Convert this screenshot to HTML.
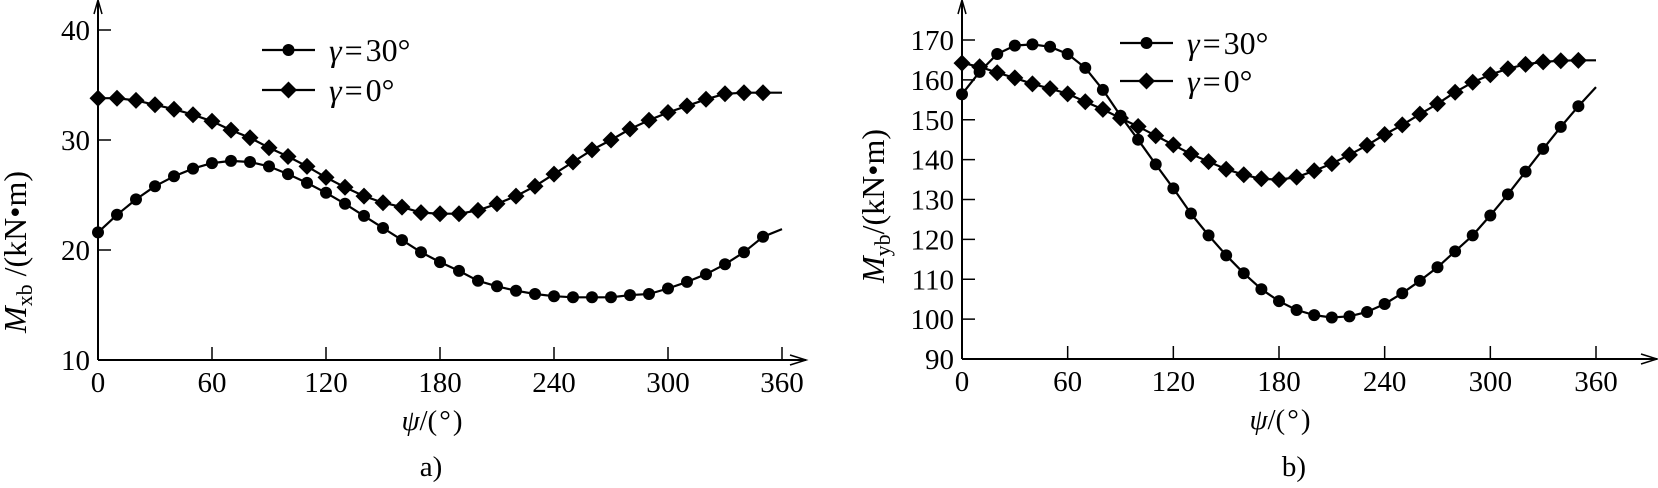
<!DOCTYPE html>
<html><head><meta charset="utf-8"><style>
html,body{margin:0;padding:0;background:#fff;}
svg{display:block;}
text{font-family:"Liberation Serif","Noto Serif CJK SC",serif;fill:#000;}
</style></head><body>
<svg id="fig" width="1658" height="488" viewBox="0 0 1658 488"></svg>
<script>
const angles = [0,10,20,30,40,50,60,70,80,90,100,110,120,130,140,150,160,170,180,190,200,210,220,230,240,250,260,270,280,290,300,310,320,330,340,350];
const xTicks = [0,60,120,180,240,300,360];
const aG30 = [21.6,23.2,24.6,25.8,26.7,27.4,27.9,28.1,28.0,27.6,26.9,26.1,25.2,24.2,23.1,22.0,20.9,19.8,18.9,18.1,17.2,16.7,16.3,16.0,15.8,15.7,15.7,15.7,15.9,16.0,16.5,17.1,17.8,18.7,19.8,21.2];
const aG30End = 21.9;
const aG0 = [33.8,33.8,33.6,33.2,32.8,32.3,31.7,30.9,30.2,29.3,28.5,27.6,26.6,25.7,24.9,24.3,23.9,23.4,23.3,23.3,23.6,24.2,24.9,25.8,26.9,28.0,29.1,30.0,31.0,31.8,32.5,33.1,33.7,34.2,34.3,34.3];
const aG0End = 34.3;
const aYTicks = [10,20,30,40];
const bG30 = [156.4,162,166.5,168.6,168.9,168.3,166.5,163,157.5,151,145,138.8,132.8,126.5,121,116,111.5,107.5,104.5,102.3,101,100.4,100.7,101.8,103.8,106.5,109.6,113,117,121,126,131.3,137,142.7,148.2,153.4];
const bG30End = 158.2;
const bG0 = [164.2,163.3,161.8,160.5,159,157.8,156.5,154.5,152.6,150.4,148.3,146,143.7,141.4,139.5,137.6,136.2,135.2,135,135.6,137.2,139,141.2,143.6,146.3,148.7,151.4,154,156.9,159.4,161.3,162.8,163.9,164.5,164.8,164.9];
const bG0End = 164.9;
const bYTicks = [90,100,110,120,130,140,150,160,170];

const NS='http://www.w3.org/2000/svg';
const svg=document.getElementById('fig');
function el(tag,attrs,parent){const e=document.createElementNS(NS,tag);for(const k in attrs)e.setAttribute(k,attrs[k]);(parent||svg).appendChild(e);return e;}

function panel(cfg){
  const g=el('g',{});
  
  
  const sx=v=>cfg.x0+(v-0)/360*(cfg.x360-cfg.x0);
  const sy=v=>cfg.yAxis-(v-cfg.yMin)/(cfg.yMax-cfg.yMin)*(cfg.yAxis-cfg.yTop);
  const ya=el('path',{d:`M${cfg.x0} ${cfg.yAxis} V2`,stroke:'#000','stroke-width':2,fill:'none'},g);
  
  
  el('path',{d:`M${cfg.x0-4} 14 L${cfg.x0} 0 L${cfg.x0+4} 14`,stroke:'#000','stroke-width':1.5,fill:'none'},g);
  const xa=el('path',{d:`M${cfg.x0} ${cfg.yAxis} H${cfg.xEnd}`,stroke:'#000','stroke-width':2,fill:'none'},g);
  
  
  el('path',{d:`M${cfg.xEnd-16} ${cfg.yAxis-5} L${cfg.xEnd} ${cfg.yAxis} L${cfg.xEnd-16} ${cfg.yAxis+5}`,stroke:'#000','stroke-width':1.5,fill:'none'},g);
  xTicks.forEach(t=>{
    const x=sx(t);
    el('line',{x1:x,x2:x,y1:cfg.yAxis,y2:cfg.yAxis-13,stroke:'#000','stroke-width':1.5},g);
    const tx=el('text',{x:x,y:cfg.yAxis+32,'text-anchor':'middle','font-size':29},g);
    tx.textContent=t;
    
    
  });
  cfg.yTicks.forEach(t=>{
    const y=sy(t);
    if(t!==cfg.yMin) el('line',{x1:cfg.x0,x2:cfg.x0+13,y1:y,y2:y,stroke:'#000','stroke-width':1.5},g);
    const tx=el('text',{x:cfg.x0-8,y:y+10,'text-anchor':'end','font-size':29},g);
    tx.textContent=t;
    
    
  });
  function series(vals,endVal,marker,name){
    let d='';
    vals.forEach((v,i)=>{d+=(i?'L':'M')+sx(angles[i]).toFixed(1)+' '+sy(v).toFixed(1)+' ';});
    d+='L'+sx(360).toFixed(1)+' '+sy(endVal).toFixed(1);
    const p=el('path',{d:d,stroke:'#000','stroke-width':2.2,fill:'none','stroke-linejoin':'round'},g);
    
    
    vals.forEach((v,i)=>{
      const x=sx(angles[i]),y=sy(v);
      let m;
      if(marker==='circle') m=el('circle',{cx:x,cy:y,r:6,fill:'#000'},g);
      else m=el('path',{d:`M${x} ${y-8.5} L${x+8.5} ${y} L${x} ${y+8.5} L${x-8.5} ${y}Z`,fill:'#000'},g);
      
      
    });
  }
  series(cfg.s30,cfg.s30End,'circle','gamma-30');
  series(cfg.s0,cfg.s0End,'diamond','gamma-0');
  const L=cfg.legend;
  [[L.y1,'circle','30°','legend-gamma-30'],[L.y2,'diamond','0°','legend-gamma-0']].forEach(([y,m,lab,nm])=>{
    const lg=el('g',{},g);
    
    
    el('line',{x1:L.x1,x2:L.x2,y1:y,y2:y,stroke:'#000','stroke-width':2.2},lg);
    const cx=(L.x1+L.x2)/2;
    if(m==='circle') el('circle',{cx:cx,cy:y,r:6,fill:'#000'},lg);
    else el('path',{d:`M${cx} ${y-8.5} L${cx+8.5} ${y} L${cx} ${y+8.5} L${cx-8.5} ${y}Z`,fill:'#000'},lg);
    const t=el('text',{x:L.x2+14,y:y+11,'font-size':32},lg);
    t.innerHTML='<tspan font-style="italic">γ</tspan><tspan dx="3">=</tspan><tspan dx="3">' + lab + '</tspan>';
  });
  const yt=el('text',{x:0,y:0,'font-size':32,'text-anchor':'middle',transform:`translate(${cfg.yTitleX},${cfg.yTitleY}) rotate(-90)`},g);
  yt.innerHTML=cfg.yTitle;
  
  
  const xt=el('text',{x:cfg.xTitleX,y:cfg.yAxis+70,'font-size':29,'text-anchor':'middle'},g);
  xt.innerHTML='<tspan font-style="italic">ψ</tspan>/(<tspan dx="2">°</tspan><tspan dx="2">)</tspan>';
  
  
  const cap=el('text',{x:cfg.capX,y:476,'font-size':29,'text-anchor':'middle'},g);
  cap.textContent=cfg.cap;
  
  
}

panel({name:'chart-a',x0:98,x360:782,xEnd:806,yAxis:360,yTop:30,yMin:10,yMax:40,yTicks:aYTicks,
  s30:aG30,s30End:aG30End,s0:aG0,s0End:aG0End,
  legend:{x1:262,x2:315,y1:50,y2:90},
  yTitle:'<tspan font-style="italic">M</tspan><tspan font-size="22" dy="6">xb</tspan><tspan dy="-6"> /(kN•m)</tspan>',
  yTitleX:26,yTitleY:252,xTitleX:432,capX:431,cap:'a)'});
panel({name:'chart-b',x0:962,x360:1596,xEnd:1657,yAxis:359,yTop:40,yMin:90,yMax:170,yTicks:bYTicks,
  s30:bG30,s30End:bG30End,s0:bG0,s0End:bG0End,
  legend:{x1:1120,x2:1173,y1:43,y2:81},
  yTitle:'<tspan font-style="italic">M</tspan><tspan font-size="22" dy="6">yb</tspan><tspan dy="-6">/(kN•m)</tspan>',
  yTitleX:884,yTitleY:206,xTitleX:1280,capX:1294,cap:'b)'});
</script>
</body></html>
